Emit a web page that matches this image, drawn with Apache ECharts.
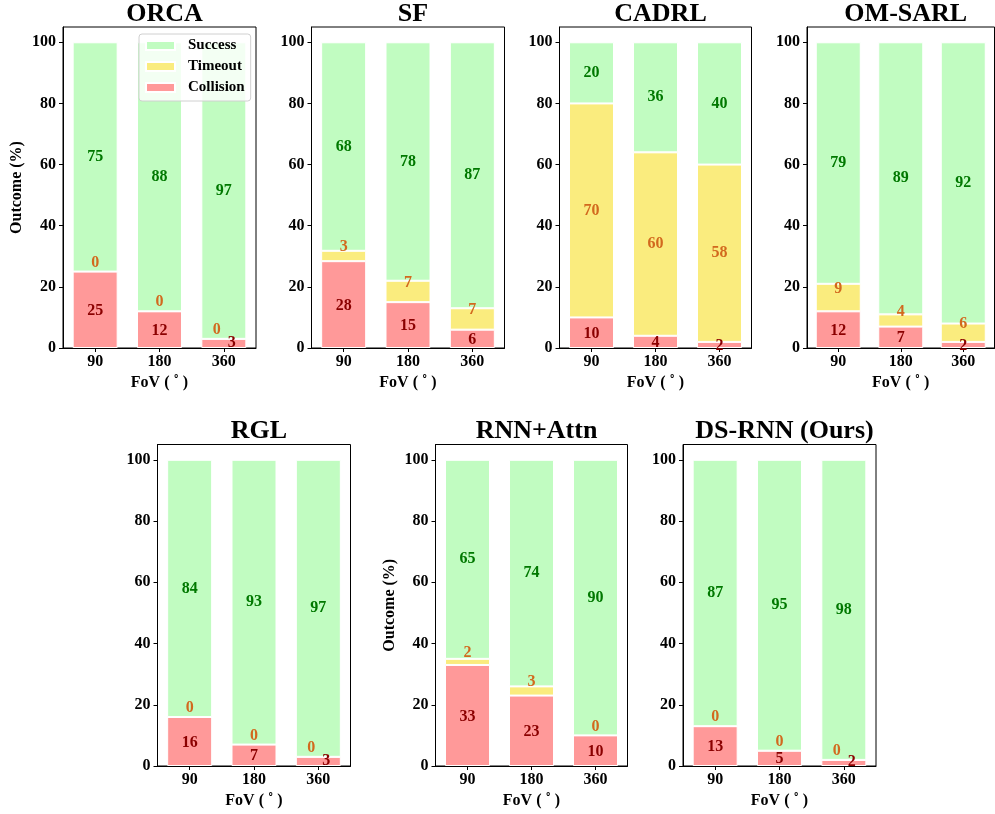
<!DOCTYPE html>
<html><head><meta charset="utf-8">
<script src="https://cdn.jsdelivr.net/npm/echarts@6/dist/echarts.min.js"></script>
<style>html,body{margin:0;padding:0;background:#fff}#c{width:995px;height:814px}</style>
</head><body><div id="c"></div>
<script>
// ---- data ----
const fovCategories = ['90', '180', '360'];
const methods = ['ORCA', 'SF', 'CADRL', 'OM-SARL', 'RGL', 'RNN+Attn', 'DS-RNN (Ours)'];
const successValues   = [[75, 88, 97], [68.2, 78, 87], [20, 36, 40], [79, 89, 92], [84, 93, 97], [65, 74, 90], [87, 95, 98]];
const timeoutValues   = [[0, 0, 0],    [3.4, 7, 7],   [70, 60, 58], [9, 4, 6],   [0, 0, 0],    [2, 3, 0],    [0, 0, 0]];
const collisionValues = [[25, 12, 3],  [28.4, 15, 6], [10, 4, 2],   [12, 7, 2],  [16, 7, 3],   [33, 23, 10], [13, 5, 2]];
const yTicks = [0, 20, 40, 60, 80, 100];
const seriesNames = ['Success', 'Timeout', 'Collision'];

// ---- layout / style ----
const layout = [
  {left: 63,    top: 27,    width: 193,   height: 321,   yName: true},
  {left: 311.5, top: 27,    width: 193,   height: 321,   yName: false},
  {left: 559.5, top: 27,    width: 192,   height: 321,   yName: false},
  {left: 807,   top: 27,    width: 187.5, height: 321,   yName: false},
  {left: 157.5, top: 444.5, width: 193,   height: 321.5, yName: false},
  {left: 435.5, top: 444.5, width: 192,   height: 321.5, yName: true},
  {left: 683,   top: 444.5, width: 193,   height: 321.5, yName: false}
];
const FONT = 'Liberation Serif, Times New Roman, serif';
const fillColors = {Success: '#c1fcc1', Timeout: '#faec7e', Collision: '#ff9999'};
const labelColors = {Success: '#007800', Timeout: '#d2691e', Collision: '#8b0000'};

const grids = [], xAxes = [], yAxes = [], series = [], titles = [];
layout.forEach((g, i) => {
  grids.push({left: g.left, top: g.top, width: g.width, height: g.height, show: true,
    borderColor: '#000', borderWidth: 1, backgroundColor: 'transparent', containLabel: false});
  titles.push({text: methods[i], left: g.left + g.width / 2, top: g.top - 31, textAlign: 'center',
    textStyle: {fontFamily: FONT, fontWeight: 'bold', fontSize: 26, color: '#000'}});
  xAxes.push({type: 'category', gridIndex: i, data: fovCategories,
    name: 'FoV ( \u02DA )', nameLocation: 'middle', nameGap: 27,
    nameTextStyle: {fontFamily: FONT, fontWeight: 'bold', fontSize: 16, color: '#000'},
    axisLine: {show: true, lineStyle: {color: '#000', width: 1}},
    axisTick: {show: true, alignWithLabel: true, length: 4, lineStyle: {color: '#000'}},
    axisLabel: {fontFamily: FONT, fontWeight: 'bold', fontSize: 16, color: '#000', margin: 6},
    splitLine: {show: false}});
  yAxes.push({type: 'value', gridIndex: i, min: 0, max: 105, interval: 20,
    name: g.yName ? 'Outcome (%)' : '', nameLocation: 'middle', nameGap: 38,
    nameTextStyle: {fontFamily: FONT, fontWeight: 'bold', fontSize: 16, color: '#000'},
    axisLine: {show: true, lineStyle: {color: '#000', width: 1}},
    axisTick: {show: true, length: 4, lineStyle: {color: '#000'}, customValues: yTicks},
    axisLabel: {fontFamily: FONT, fontWeight: 'bold', fontSize: 16, color: '#000', margin: 7,
      customValues: yTicks, formatter: v => (yTicks.indexOf(v) >= 0 ? String(v) : '')},
    splitLine: {show: false}});

  const coll = collisionValues[i], tout = timeoutValues[i], succ = successValues[i];
  const overlap = j => coll[j] < 5 && tout[j] < 5;
  const collData = coll.map((v, j) => ({value: v, label: {offset: overlap(j) ? [8, -1] : [0, 1]}}));
  const toutData = tout.map((v, j) => ({value: v, label: {offset: overlap(j) ? [-7, -9] : (v < 10 ? [0, -9] : [0, 0])}}));
  const succData = succ.map(v => ({value: v}));
  const mk = (name, data) => ({
    name, type: 'bar', xAxisIndex: i, yAxisIndex: i, stack: 'stack' + i, barWidth: 45, data,
    itemStyle: {color: fillColors[name], borderColor: '#fff', borderWidth: 1},
    label: {show: true, position: 'inside', formatter: p => String(Math.round(p.value)),
      fontFamily: FONT, fontWeight: 'bold', fontSize: 16, color: labelColors[name]},
    emphasis: {disabled: true}, animation: false
  });
  series.push(mk('Collision', collData));
  series.push(mk('Timeout', toutData));
  series.push(mk('Success', succData));
});

const chart = echarts.init(document.getElementById('c'), null, {renderer: 'canvas'});
chart.setOption({
  backgroundColor: '#fff',
  animation: false,
  title: titles,
  legend: {data: seriesNames, orient: 'vertical', left: 139, top: 34, icon: 'rect',
    itemWidth: 29, itemHeight: 9, itemGap: 6, padding: [4, 6, 6, 6],
    backgroundColor: 'rgba(255,255,255,0.8)', borderColor: '#d0d0d0', borderWidth: 1, borderRadius: 3,
    textStyle: {fontFamily: FONT, fontWeight: 'bold', fontSize: 15, color: '#000', padding: [0, 0, 0, 8], lineHeight: 15},
    selectedMode: false},
  grid: grids, xAxis: xAxes, yAxis: yAxes, series
});
</script></body></html>
